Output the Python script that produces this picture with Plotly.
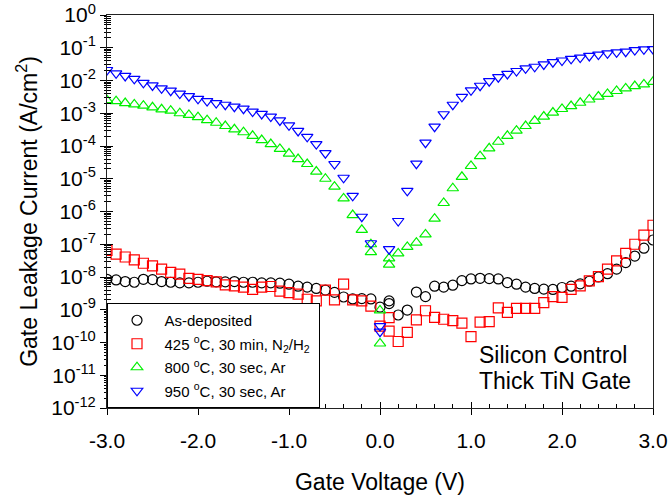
import plotly.graph_objects as go

# Gate voltage sweep (V)
volts = [-3.0, -2.9, -2.8, -2.7, -2.6, -2.5, -2.4, -2.3, -2.2, -2.1,
         -2.0, -1.9, -1.8, -1.7, -1.6, -1.5, -1.4, -1.3, -1.2, -1.1,
         -1.0, -0.9, -0.8, -0.7, -0.6, -0.5, -0.4, -0.3, -0.2, -0.1,
         0.0,
         0.1, 0.2, 0.3, 0.4, 0.5, 0.6, 0.7, 0.8, 0.9, 1.0,
         1.1, 1.2, 1.3, 1.4, 1.5, 1.6, 1.7, 1.8, 1.9, 2.0,
         2.1, 2.2, 2.3, 2.4, 2.5, 2.6, 2.7, 2.8, 2.9, 3.0]

# log10 of leakage current density (A/cm^2)
as_dep_log = [-8.07, -8.09, -8.14, -8.16, -8.07, -8.08, -8.14, -8.16, -8.18, -8.18,
              -8.16, -8.13, -8.15, -8.15, -8.14, -8.16, -8.16, -8.18, -8.18, -8.19,
              -8.22, -8.28, -8.31, -8.35, -8.40, -8.47, -8.61, -8.67, -8.66, -8.67,
              -8.92,
              -8.73, -9.16, -9.01, -8.46, -8.60, -8.28, -8.31, -8.25, -8.11, -8.06,
              -8.04, -8.05, -8.06, -8.17, -8.22, -8.31, -8.35, -8.37, -8.38, -8.32,
              -8.28, -8.21, -8.13, -8.00, -7.90, -7.76, -7.56, -7.36, -7.12, -6.87]
as_dep_extra_v = [0.1]
as_dep_extra_log = [-8.81]

n2h2_log = [-7.19, -7.30, -7.39, -7.48, -7.58, -7.66, -7.76, -7.86, -7.91, -8.04,
            -8.07, -8.11, -8.15, -8.24, -8.27, -8.31, -8.38, -8.31, -8.29, -8.43,
            -8.48, -8.52, -8.68, -8.73, -8.40, -8.70, -8.22, -8.70, -8.73, -8.89,
            -9.50,
            -9.24, -9.97, -9.69, -9.31, -9.03, -9.23, -9.29, -9.33, -9.41, -9.82,
            -9.38, -9.36, -8.94, -9.08, -8.96, -8.96, -8.96, -8.78, -8.60, -8.62,
            -8.38, -8.27, -8.12, -7.99, -7.76, -7.51, -7.28, -7.00, -6.72, -6.42]
n2h2_extra_v = [0.1]
n2h2_extra_log = [-9.65]

ar800_log = [-2.60, -2.63, -2.69, -2.73, -2.77, -2.82, -2.88, -2.92, -3.00, -3.05,
             -3.12, -3.21, -3.29, -3.39, -3.49, -3.58, -3.69, -3.82, -3.94, -4.09,
             -4.23, -4.40, -4.55, -4.78, -5.00, -5.24, -5.60, -6.11, -6.56, -7.00,
             -9.02,
             -7.43, -7.28, -7.08, -6.95, -6.70, -6.22, -5.74, -5.29, -4.94, -4.61,
             -4.31, -4.07, -3.87, -3.69, -3.53, -3.39, -3.23, -3.10, -2.98, -2.87,
             -2.78, -2.68, -2.58, -2.49, -2.41, -2.32, -2.24, -2.17, -2.12, -2.04]
ar800_extra_v = [-0.1, 0.0, 0.1]
ar800_extra_log = [-7.24, -10.03, -7.62]

ar950_log = [-1.68, -1.78, -1.86, -1.95, -2.07, -2.15, -2.24, -2.31, -2.40, -2.48,
             -2.56, -2.63, -2.69, -2.74, -2.80, -2.86, -2.95, -3.02, -3.10, -3.22,
             -3.37, -3.54, -3.72, -3.94, -4.22, -4.55, -4.97, -5.52, -6.16, -6.97,
             -9.50,
             -7.15, -6.29, -5.37, -4.54, -3.90, -3.41, -3.03, -2.74, -2.50, -2.30,
             -2.16, -2.02, -1.90, -1.80, -1.71, -1.63, -1.58, -1.51, -1.44, -1.39,
             -1.34, -1.30, -1.25, -1.21, -1.17, -1.14, -1.12, -1.07, -1.05, -1.04]
ar950_extra_v = [0.0]
ar950_extra_log = [-9.67]

series_names = ["As-deposited",
                "425 <sup>o</sup>C, 30 min, N<sub>2</sub>/H<sub>2</sub>",
                "800 <sup>o</sup>C, 30 sec, Ar",
                "950 <sup>o</sup>C, 30 sec, Ar"]

annotation_lines = ["Silicon Control", "Thick TiN Gate"]

x_tick_vals = [-3, -2, -1, 0, 1, 2, 3]
x_tick_text = ["-3.0", "-2.0", "-1.0", "0.0", "1.0", "2.0", "3.0"]
y_exponents = [0, -1, -2, -3, -4, -5, -6, -7, -8, -9, -10, -11, -12]

y_tick_vals = [10.0 ** e for e in y_exponents]
y_tick_text = ["10<sup>%d</sup>" % e for e in y_exponents]
y_minor_vals = [m * 10.0 ** e for e in y_exponents[1:] for m in range(2, 10)]
x_minor_vals = [v / 10 for v in range(-30, 31, 2) if v % 10 != 0]

styles = [("circle-open", "black"), ("square-open", "#ff0000"),
          ("triangle-up-open", "#00f000"), ("triangle-down-open", "#0000ff")]
data = [(as_dep_log, as_dep_extra_v, as_dep_extra_log),
        (n2h2_log, n2h2_extra_v, n2h2_extra_log),
        (ar800_log, ar800_extra_v, ar800_extra_log),
        (ar950_log, ar950_extra_v, ar950_extra_log)]

fig = go.Figure()
for name, (sym, col), (logs, ev, el) in zip(series_names, styles, data):
    xs = volts + ev
    ys = [10.0 ** v for v in logs + el]
    fig.add_trace(go.Scatter(
        x=xs, y=ys, mode="markers", name="\u2002" + name + "\u00a0", legendgroup=name,
        marker=dict(symbol=sym, size=10, color=col, line=dict(width=1.2, color=col)),
    ))

# overlay axes giving the inner half of the crossing ticks
fig.add_trace(go.Scatter(x=[], y=[], xaxis="x2", yaxis="y2", showlegend=False))

font_family = "Arial, Liberation Sans, sans-serif"
fig.update_layout(
    width=671, height=501,
    margin=dict(l=107, r=18, t=15, b=93, autoexpand=False),
    paper_bgcolor="white", plot_bgcolor="rgba(0,0,0,0)",
    font=dict(family=font_family, color="black"),
    showlegend=True,
    legend=dict(x=0, y=0, xanchor="left", yanchor="bottom",
                bgcolor="white", bordercolor="black", borderwidth=1,
                font=dict(size=15, family=font_family), tracegroupgap=1,
                indentation=9),
    xaxis=dict(range=[-3, 3], tickmode="array", tickvals=x_tick_vals, ticktext=x_tick_text,
               ticks="outside", ticklen=6, tickwidth=1, tickcolor="black",
               showline=True, linecolor="#222", linewidth=1, mirror=True,
               showgrid=False, zeroline=False, automargin=False,
               tickfont=dict(size=21), ticklabelstandoff=8,
               title=dict(text="Gate Voltage (V)", font=dict(size=23), standoff=22)),
    xaxis2=dict(range=[-3, 3], overlaying="x", anchor="y", side="bottom",
                tickmode="array", tickvals=x_tick_vals, showticklabels=False,
                ticks="inside", ticklen=6, tickwidth=1, tickcolor="black",
                minor=dict(tickmode="array", tickvals=x_minor_vals, ticks="inside",
                           ticklen=4, tickcolor="black", showgrid=False),
                showline=False, showgrid=False, zeroline=False, automargin=False),
    yaxis=dict(type="log", range=[-12, 0], tickmode="array", tickvals=y_tick_vals,
               ticktext=y_tick_text, ticks="outside", ticklen=6, tickwidth=1,
               tickcolor="black", showline=True, linecolor="#222", linewidth=1,
               mirror=True, showgrid=False, zeroline=False, automargin=False,
               minor=dict(tickmode="array", tickvals=y_minor_vals, ticks="outside",
                          ticklen=2, tickcolor="black", showgrid=False),
               tickfont=dict(size=21), ticklabelstandoff=0,
               title=dict(text="Gate Leakage Current (A/cm<sup>2</sup>)",
                          font=dict(size=23), standoff=7)),
    yaxis2=dict(type="log", range=[-12, 0], overlaying="y", anchor="x", side="left",
                tickmode="array", tickvals=y_tick_vals, showticklabels=False,
                ticks="inside", ticklen=6, tickwidth=1, tickcolor="black",
                minor=dict(tickmode="array", tickvals=y_minor_vals, ticks="inside",
                           ticklen=4, tickcolor="black", showgrid=False),
                showline=False, showgrid=False, zeroline=False, automargin=False),
    annotations=[dict(text=annotation_lines[0], xref="paper", yref="paper",
                      x=0.677, y=0.135, xanchor="left", yanchor="middle",
                      showarrow=False, font=dict(size=23, family=font_family)),
                 dict(text=annotation_lines[1], xref="paper", yref="paper",
                      x=0.677, y=0.069, xanchor="left", yanchor="middle",
                      showarrow=False, font=dict(size=23, family=font_family))],
)

fig.write_html("out.html")
